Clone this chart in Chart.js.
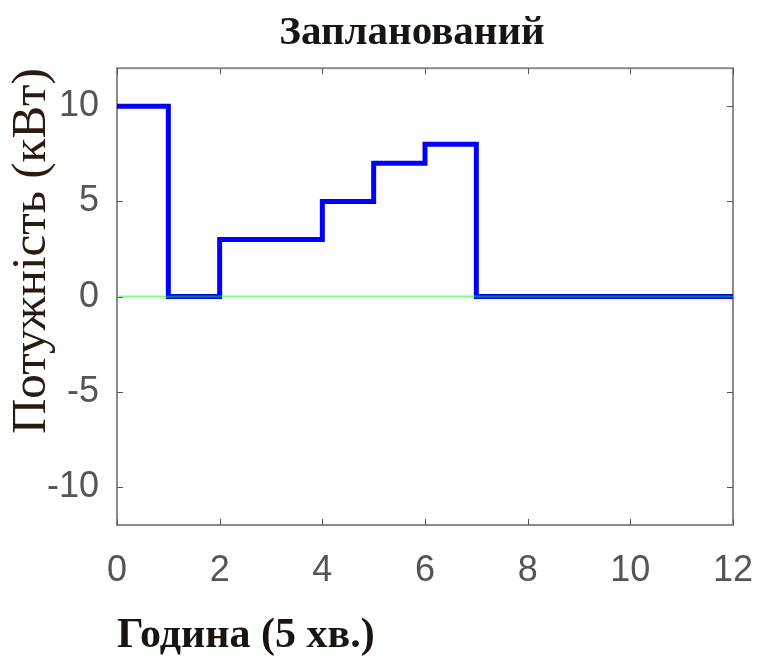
<!DOCTYPE html>
<html>
<head>
<meta charset="utf-8">
<script src="https://cdn.jsdelivr.net/npm/chart.js@4/dist/chart.umd.min.js"></script>
<style>
  body { margin: 0; background: #fff; }
  #wrap { width: 758px; height: 662px; }
</style>
</head>
<body>
<div id="wrap"><canvas id="planChart" width="758" height="662"></canvas></div>
<script>
// step data (value holds from x until the next x)
let hours = [0, 1, 2, 3, 4, 5, 6, 7, 8, 9, 10, 11, 12]
let power = [10, 0, 3, 3, 5, 7, 8, 0, 0, 0, 0, 0, 0]

let zeroX = [0, 12]
let zeroY = [0, 0]

let xTicks = [0, 2, 4, 6, 8, 10, 12]
let yTicks = [-10, -5, 0, 5, 10]

let planPts = hours.map((h, i) => ({ x: h, y: power[i] }));
let zeroPts = zeroX.map((h, i) => ({ x: h, y: zeroY[i] }));

// matlab style box with inward ticks, title roughly over the plot area
const boxPlugin = {
  id: 'box',
  afterLayout(chart) {
    const a = chart.chartArea;
    if (chart.titleBlock) {
      chart.titleBlock.left = a.left;
      chart.titleBlock.right = a.right - 26;
    }
  },
  beforeDatasetsDraw(chart) {
    const { ctx, chartArea: a, scales: { x, y } } = chart;
    ctx.save();
    ctx.strokeStyle = '#8c8c8c';
    ctx.lineWidth = 2;
    ctx.strokeRect(a.left, a.top, a.width, a.height);
    ctx.strokeStyle = '#555';
    ctx.lineWidth = 1;
    ctx.beginPath();
    for (let v of xTicks) {
      let px = Math.round(x.getPixelForValue(v)) + 0.5;
      ctx.moveTo(px, a.bottom); ctx.lineTo(px, a.bottom - 6);
      ctx.moveTo(px, a.top); ctx.lineTo(px, a.top + 6);
    }
    for (let v of yTicks) {
      let py = Math.round(y.getPixelForValue(v)) + 0.5;
      ctx.moveTo(a.left, py); ctx.lineTo(a.left + 6, py);
      ctx.moveTo(a.right, py); ctx.lineTo(a.right - 6, py);
    }
    ctx.stroke();
    ctx.restore();
  }
};

const ctx = document.getElementById('planChart').getContext('2d');
new Chart(ctx, {
  type: 'line',
  data: {
    datasets: [
      {
        label: 'zero',
        data: zeroPts,
        borderColor: 'rgba(0, 255, 0, 0.5)',
        borderWidth: 2,
        pointRadius: 0,
        order: 0
      },
      {
        label: 'plan',
        data: planPts,
        borderColor: '#0000ff',
        borderWidth: 5,
        stepped: 'before',
        pointRadius: 0,
        borderJoinStyle: 'miter',
        borderCapStyle: 'butt',
        order: 1
      }
    ]
  },
  options: {
    responsive: false,
    animation: false,
    layout: { padding: 0 },
    plugins: {
      legend: { display: false },
      tooltip: { enabled: false },
      title: {
        display: true,
        text: 'Запланований',
        color: '#1a1410',
        font: { family: 'Liberation Serif', size: 41, weight: 'bold' },
        padding: { top: 9, bottom: 10 }
      }
    },
    scales: {
      x: {
        type: 'linear',
        min: 0,
        max: 12,
        afterBuildTicks: s => { s.ticks = xTicks.map(v => ({ value: v })); },
        afterFit: s => { s.height = 137; s.paddingRight = 25; },
        grid: { display: false, drawTicks: false },
        border: { display: false },
        ticks: {
          color: '#555',
          font: { family: 'Liberation Sans', size: 36 },
          padding: 24,
          maxRotation: 0
        },
        title: {
          display: true,
          text: 'Година (5 хв.)',
          align: 'start',
          color: '#1a1410',
          font: { family: 'Liberation Serif', size: 42, weight: 'bold' },
          padding: { top: 0, bottom: 1 }
        }
      },
      y: {
        min: -12,
        max: 12,
        afterBuildTicks: s => { s.ticks = yTicks.map(v => ({ value: v })); },
        afterFit: s => { s.width = 117; },
        grid: { display: false, drawTicks: false },
        border: { display: false },
        ticks: {
          color: '#555',
          font: { family: 'Liberation Sans', size: 36 },
          padding: 18
        },
        title: {
          display: true,
          text: 'Потужність (кВт)',
          align: 'end',
          color: '#2a1a10',
          font: { family: 'Liberation Serif', size: 49 },
          padding: { top: 3, bottom: 0 }
        }
      }
    }
  },
  plugins: [boxPlugin]
});
</script>
</body>
</html>
